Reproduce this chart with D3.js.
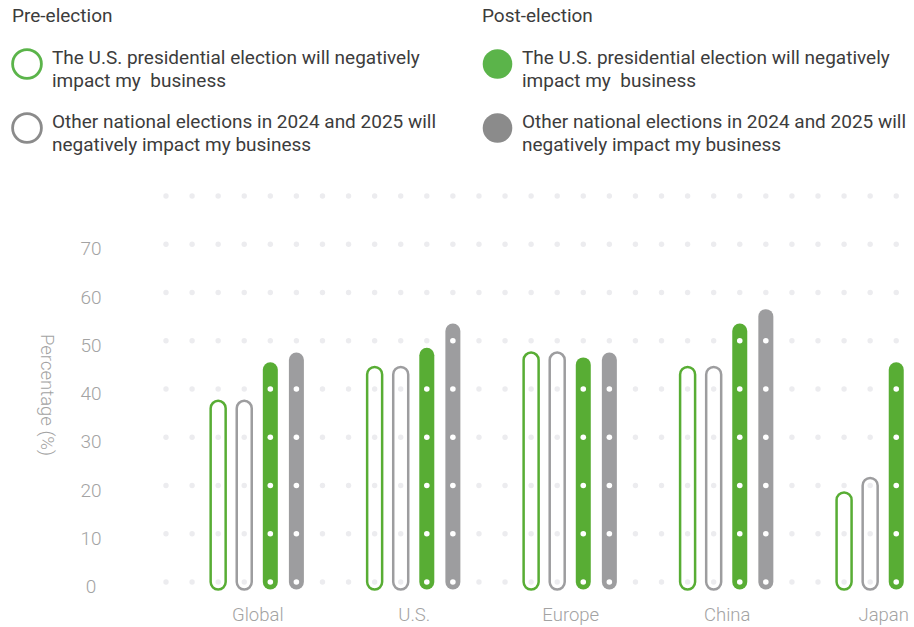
<!DOCTYPE html>
<html>
<head>
<meta charset="utf-8">
<script src="https://cdn.jsdelivr.net/npm/d3@7/dist/d3.min.js"></script>
<style>
  html, body { margin: 0; padding: 0; background: #fff; }
  svg { display: block; font-family: Roboto, "Noto Sans", sans-serif; }
</style>
</head>
<body>
<script>
// Share of respondents who expect elections to hurt their business, by region
const categories = ["Global", "U.S.", "Europe", "China", "Japan"];
const preUS     = [36, 43, 46, 43, 17];
const preOther  = [36, 43, 46, 43, 20];
const postUS    = [44, 47, 45, 52, 44];
const postOther = [46, 52, 46, 55, null];
const yTicks    = [0, 10, 20, 30, 40, 50, 60, 70];
const gridRows  = [0, 10, 20, 30, 40, 50, 60, 70, 80];

const GREEN = "#58ad34";
const GRAY = "#9d9d9f";
const TEXT = "#3c3c3c";
const AXIS_TEXT = "#a3a3a3";

const series = [
  { key: "preUS",     values: preUS,     color: GREEN, filled: false },
  { key: "preOther",  values: preOther,  color: GRAY,  filled: false },
  { key: "postUS",    values: postUS,    color: GREEN, filled: true },
  { key: "postOther", values: postOther, color: GRAY,  filled: true }
];

const W = 914, H = 627;
const svg = d3.select("body").append("svg").attr("width", W).attr("height", H);

// Scales
const y = d3.scaleLinear().domain([0, 80]).range([582, 196]);
const nCols = 30;
const col = d3.scaleLinear().domain([0, 1]).range([166, 192.08]);
const step = col(1) - col(0);
const xCat = d3.scalePoint().domain(categories).range([col(3.5), col(27.5)]);
const xSer = d3.scaleBand().domain(series.map(s => s.key)).range([-2 * step, 2 * step]);
const barW = 15;

// Dotted background grid
const gridPts = [];
d3.range(nCols).forEach(c => gridRows.forEach(r => gridPts.push({ c, r })));
svg.append("g")
  .selectAll("circle")
  .data(gridPts)
  .join("circle")
  .attr("cx", d => col(d.c))
  .attr("cy", d => y(d.r))
  .attr("r", 2.7)
  .attr("fill", "#ececef");

// Pill-shaped bars
const barData = [];
series.forEach(s => {
  categories.forEach((cat, i) => {
    const v = s.values[i];
    if (v == null) return;
    barData.push({ cat, v, s, cx: xCat(cat) + xSer(s.key) + xSer.bandwidth() / 2 });
  });
});

const bars = svg.append("g");
bars.selectAll("rect")
  .data(barData)
  .join("rect")
  .attr("x", d => d.cx - barW / 2)
  .attr("y", d => y(d.v) - barW / 2)
  .attr("width", barW)
  .attr("height", d => y(0) - y(d.v) + barW)
  .attr("rx", barW / 2)
  .attr("fill", d => d.s.filled ? d.s.color : "none")
  .attr("stroke", d => d.s.filled ? "none" : d.s.color)
  .attr("stroke-width", 2.5);

// White grid dots showing through the filled bars
const innerDots = [];
barData.filter(d => d.s.filled).forEach(d => {
  gridRows.filter(r => r <= d.v).forEach(r => innerDots.push({ cx: d.cx, r }));
});
svg.append("g")
  .selectAll("circle")
  .data(innerDots)
  .join("circle")
  .attr("cx", d => d.cx)
  .attr("cy", d => y(d.r))
  .attr("r", 2.8)
  .attr("fill", "#ffffff");

// Y axis labels
svg.append("g")
  .attr("transform", "translate(91,0)")
  .call(d3.axisLeft(y).tickValues(yTicks).tickSize(0).tickPadding(0))
  .call(g => g.select(".domain").remove())
  .call(g => g.attr("font-size", null).attr("font-family", null))
  .call(g => g.selectAll("text")
    .attr("x", 0).attr("dy", null).attr("y", 10.5)
    .attr("text-anchor", "middle")
    .attr("fill", AXIS_TEXT)
    .style("font-size", "19px")
    .style("font-weight", 300));

// Category labels
svg.append("g")
  .attr("transform", `translate(0,${y(0)})`)
  .call(d3.axisBottom(xCat).tickSize(0).tickPadding(0))
  .call(g => g.select(".domain").remove())
  .call(g => g.attr("font-size", null).attr("font-family", null))
  .call(g => g.selectAll("text")
    .attr("y", 39).attr("dy", null)
    .attr("fill", AXIS_TEXT)
    .style("font-size", "18.5px")
    .style("font-weight", 300));

// Y axis title
svg.append("text")
  .attr("transform", "translate(47,395) rotate(90)")
  .attr("text-anchor", "middle")
  .attr("dominant-baseline", "central")
  .attr("fill", AXIS_TEXT)
  .style("font-size", "18.5px")
  .style("font-weight", 300)
  .text("Percentage (%)");

// Legend
const legendGroups = [
  { title: "Pre-election", x: 12, filled: false },
  { title: "Post-election", x: 482, filled: true }
];
const legendItems = [
  { legendColor: "#5bb44a", lines: ["The U.S. presidential election will negatively", "impact my  business"], cy: 64 },
  { legendColor: "#8b8b8b", lines: ["Other national elections in 2024 and 2025 will", "negatively impact my business"], cy: 128 }
];

legendGroups.forEach(gp => {
  const g = svg.append("g").attr("transform", `translate(${gp.x},0)`);
  g.append("text")
    .attr("x", 0).attr("y", 22)
    .attr("fill", TEXT)
    .style("font-size", "19px")
    .text(gp.title);
  legendItems.forEach(it => {
    if (gp.filled) {
      g.append("circle").attr("cx", 15.5).attr("cy", it.cy).attr("r", 14.8).attr("fill", it.legendColor);
    } else {
      g.append("circle").attr("cx", 15).attr("cy", it.cy).attr("r", 14.4)
        .attr("fill", "none").attr("stroke", it.legendColor).attr("stroke-width", 2.8);
    }
    const t = g.append("text")
      .attr("fill", TEXT)
      .style("font-size", "19px")
      .style("white-space", "pre");
    it.lines.forEach((ln, i) => {
      t.append("tspan").attr("x", 40).attr("y", it.cy - 0.5 + i * 23).text(ln);
    });
  });
});
</script>
</body>
</html>
